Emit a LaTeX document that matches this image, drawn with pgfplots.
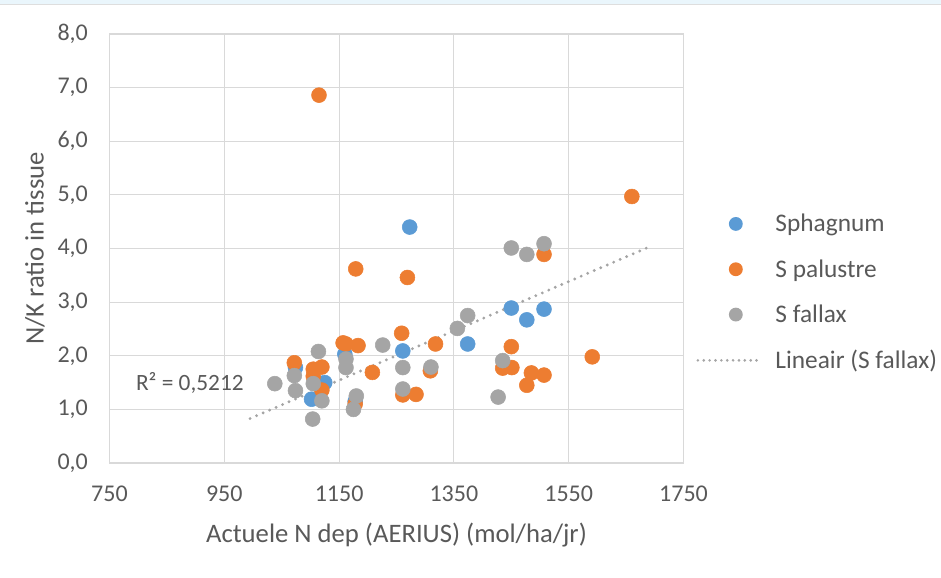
\documentclass[border=0pt]{standalone}
\usepackage{pgfplots}
\pgfplotsset{compat=1.18}
\usepackage{fontspec}
\setmainfont{Carlito}

\definecolor{sphblue}{HTML}{5B9BD5}
\definecolor{palorange}{HTML}{ED7D31}
\definecolor{falgrey}{HTML}{A5A5A5}
\definecolor{txtgrey}{HTML}{595959}
\definecolor{gridgrey}{HTML}{D9D9D9}
\definecolor{bandblue}{HTML}{EAF6FC}

\begin{document}
\begin{tikzpicture}
% page frame (941 x 577 px at 0.75 pt/px)
\useasboundingbox (-82.1pt,-85.5pt) rectangle (623.6pt,347.25pt);
\fill[bandblue] (-82.1pt,344.2pt) rectangle (623.6pt,347.25pt);
\draw[gridgrey!80!black!40, line width=1.2pt] (-82.1pt,343.8pt) -- (623.6pt,343.8pt);
\begin{axis}[
  scale only axis,
  width=430.5pt, height=321.75pt,
  xmin=750, xmax=1750, ymin=0, ymax=8,
  xtick={750,950,1150,1350,1550,1750},
  ytick={0,1,...,8},
  grid=major,
  major grid style={gridgrey, line width=0.8pt},
  axis line style={gridgrey, line width=0.8pt},
  major tick length=0pt,
  tick label style={font=\fontsize{18}{21}\selectfont, text=txtgrey, inner sep=0pt},
  /pgf/number format/assume math mode=true,
  xticklabel style={/pgf/number format/1000 sep={}, anchor=center, yshift=-23pt},
  yticklabel style={/pgf/number format/.cd, fixed, fixed zerofill, precision=1, use comma, /tikz/.cd, anchor=east, xshift=-16pt},
  xlabel={Actuele N dep (AERIUS) (mol/ha/jr)},
  ylabel={N/K ratio in tissue},
  label style={font=\fontsize{20}{24}\selectfont, text=txtgrey},
  xlabel style={at={(axis description cs:0.5,-0.168)}, anchor=center},
  ylabel style={at={(axis description cs:-0.13,0.5)}, anchor=center},
  clip=false,
  legend cell align=left,
  legend style={draw=none, fill=none, font=\fontsize{19}{23}\selectfont, text=txtgrey,
    at={(axis description cs:1.022,0.587)}, anchor=north west,
    row sep=15.3pt, inner sep=0pt,
    /tikz/every odd column/.append style={column sep=11pt}},
  mark options={solid},
]
\addplot[only marks, mark=*, mark size=5.6pt, color=sphblue, draw=none,
  legend image code/.code={\fill[sphblue] (1.05cm,0cm) circle (5.2pt);}]
coordinates {
(1273,4.40) (1450,2.89) (1477,2.67) (1507,2.87) (1374,2.22) (1261,2.09)
(1160,2.03) (1074,1.78) (1125,1.50) (1102,1.19) (1178,1.15)
};
\addlegendentry{Sphagnum}

\addplot[only marks, mark=*, mark size=5.6pt, color=palorange, draw=none,
  legend image code/.code={\fill[palorange] (1.05cm,0cm) circle (5.2pt);}]
coordinates {
(1115,6.86) (1660,4.97) (1269,3.46) (1179,3.62) (1507,3.89) (1318,2.22)
(1259,2.42) (1450,2.17) (1157,2.24) (1162,2.22) (1183,2.19) (1072,1.87)
(1105,1.75) (1120,1.79) (1120,1.36) (1105,1.62) (1208,1.69) (1309,1.72)
(1261,1.27) (1284,1.28) (1435,1.77) (1451,1.78) (1485,1.68) (1507,1.64)
(1477,1.45) (1591,1.98) (1178,1.10)
};
\addlegendentry{S palustre}

\addplot[only marks, mark=*, mark size=5.6pt, color=falgrey, draw=none,
  legend image code/.code={\fill[falgrey] (1.05cm,0cm) circle (5.2pt);}]
coordinates {
(1450,4.01) (1477,3.89) (1507,4.09) (1374,2.75) (1356,2.51) (1226,2.20)
(1261,1.78) (1310,1.79) (1261,1.38) (1427,1.23) (1435,1.91) (1162,1.94)
(1162,1.78) (1180,1.25) (1175,1.00) (1114,2.08) (1072,1.63) (1074,1.35)
(1038,1.48) (1105,1.48) (1120,1.16) (1104,0.82)
};
\addlegendentry{S fallax}

% linear trend of the S fallax series
\addplot[falgrey, line width=2.4pt, line cap=round, dash pattern=on 0pt off 5.3pt,
  legend image code/.code={\draw[falgrey, line width=2.2pt, line cap=round, dash pattern=on 0pt off 4.4pt] (0.05cm,0cm) -- (1.6cm,0cm);}]
coordinates {(995,0.83) (1688,4.02)};
\addlegendentry{Lineair (S fallax)}

\node[text=txtgrey, font=\fontsize{17.5}{21}\selectfont] at (axis cs:890,1.49) {R² = 0,5212};
\end{axis}
\end{tikzpicture}
\end{document}
